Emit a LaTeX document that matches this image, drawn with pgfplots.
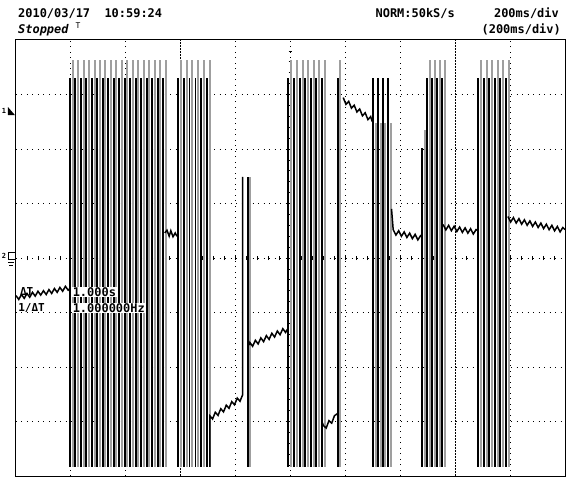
\documentclass[border=0pt]{standalone}
\usepackage{pgfplots}
\pgfplotsset{compat=1.18}
\usepackage{pgfplotstable}
\usepackage{fontspec}
\setmonofont{DejaVu Sans Mono}
\begin{document}
% pulse edges: x position (div), bottom, height of black edge, height of gray edge
\pgfplotstableread{
x    yb    hb   hg
0.98 -3.83 7.13 7.46
1.08 -3.83 7.13 7.46
1.18 -3.83 7.13 7.46
1.28 -3.83 7.13 7.46
1.38 -3.83 7.13 7.46
1.48 -3.83 7.13 7.46
1.58 -3.83 7.13 7.46
1.68 -3.83 7.13 7.46
1.78 -3.83 7.13 7.46
1.88 -3.83 7.13 7.46
1.98 -3.83 7.13 7.46
2.08 -3.83 7.13 7.46
2.18 -3.83 7.13 7.46
2.28 -3.83 7.13 7.46
2.38 -3.83 7.13 7.46
2.48 -3.83 7.13 7.46
2.58 -3.83 7.13 7.46
2.68 -3.83 7.13 7.46
2.95 -3.83 7.13 7.46
3.06 -3.83 7.13 7.46
3.16 -3.83 7.13 7.46
3.27 -3.83 7.13 7.46
3.37 -3.83 7.13 7.46
3.48 -3.83 7.13 7.46
4.22 -3.83 5.32 5.32
4.95 -3.83 7.13 7.46
5.06 -3.83 7.13 7.46
5.17 -3.83 7.13 7.46
5.27 -3.83 7.13 7.46
5.37 -3.83 7.13 7.46
5.47 -3.83 7.13 7.46
5.57 -3.83 7.13 7.46
5.86 -3.83 7.13 7.46
6.50 -3.83 7.13 6.31
6.59 -3.83 7.13 6.31
6.68 -3.83 7.13 6.31
6.78 -3.83 7.13 6.31
7.40 -3.83 5.85 6.18
7.49 -3.83 7.13 7.46
7.58 -3.83 7.13 7.46
7.67 -3.83 7.13 7.46
7.76 -3.83 7.13 7.46
8.42 -3.83 7.13 7.46
8.52 -3.83 7.13 7.46
8.62 -3.83 7.13 7.46
8.73 -3.83 7.13 7.46
8.82 -3.83 7.13 7.46
8.93 -3.83 7.13 7.46
}\pulses

\begin{tikzpicture}[font=\ttfamily\bfseries\fontsize{12}{14}\selectfont]
\begin{axis}[
  scale only axis, width=549bp, height=436bp,
  xmin=0, xmax=10, ymin=-4, ymax=4,
  xtick=\empty, ytick=\empty,
  axis line style={black, line width=1bp},
  clip=false,
]
% dotted graticule
\pgfplotsinvokeforeach{1,2,4,6,7,9}{\draw[black, line width=0.9bp, dash pattern=on 0.9bp off 4.6bp] (axis cs:#1,-4) -- (axis cs:#1,4);}
\pgfplotsinvokeforeach{-3,-2,-1,1,2,3}{\draw[black, line width=0.9bp, dash pattern=on 0.9bp off 4.6bp] (axis cs:0,#1) -- (axis cs:10,#1);}
% centre lines with fine ticks, and the two cursors
\draw[black, line width=0.9bp, dash pattern=on 0.9bp off 4.6bp] (axis cs:0,0) -- (axis cs:10,0);
\draw[black, line width=0.9bp, dash pattern=on 0.9bp off 4.6bp] (axis cs:5,-4) -- (axis cs:5,4);
\pgfplotsinvokeforeach{0.2,0.4,...,9.8}{\draw[black, line width=0.8bp] (axis cs:#1,-0.04) -- (axis cs:#1,0.04);}
\pgfplotsinvokeforeach{-3.8,-3.6,...,3.8}{\draw[black, line width=0.8bp] (axis cs:4.964,#1) -- (axis cs:5.036,#1);}
\draw[black, line width=1bp, dash pattern=on 2bp off 1bp] (axis cs:3,-4) -- (axis cs:3,4);
\draw[black, line width=1bp, dash pattern=on 2bp off 1bp] (axis cs:8,-4) -- (axis cs:8,4);

% pulse edges
\addplot[gray!75, line width=2bp, quiver={u=0, v=\thisrow{hg}}]
  table[x expr=\thisrow{x}+0.05, y=yb] {\pulses};
\addplot[black, line width=1.8bp, quiver={u=0, v=\thisrow{hb}}]
  table[x=x, y=yb] {\pulses};

% trace between bursts
\addplot[black, line width=1.5bp] coordinates {
(0.00,-0.69) (0.05,-0.76) (0.10,-0.67) (0.15,-0.74) (0.20,-0.65) (0.25,-0.72)
(0.30,-0.63) (0.35,-0.70) (0.40,-0.61) (0.45,-0.68) (0.50,-0.60) (0.55,-0.67)
(0.60,-0.58) (0.65,-0.65) (0.70,-0.56) (0.75,-0.63) (0.80,-0.54) (0.85,-0.61)
(0.90,-0.52) (0.95,-0.59) (0.98,-0.56)};
\addplot[black, line width=1.5bp] coordinates {
(2.71,0.46) (2.75,0.51) (2.79,0.40) (2.82,0.50) (2.86,0.39) (2.90,0.46) (2.93,0.40)};
\addplot[black, line width=1.5bp] coordinates {
(3.53,-3.83) (3.53,-2.895) (3.58,-2.953) (3.63,-2.830) (3.68,-2.888) (3.73,-2.765)
(3.78,-2.823) (3.83,-2.700) (3.88,-2.758) (3.93,-2.635) (3.98,-2.693) (4.03,-2.570)
(4.08,-2.628) (4.13,-2.505) (4.13,1.49)};
\addplot[black, line width=1.5bp] coordinates {
(4.25,-1.60) (4.26,-1.551) (4.31,-1.620) (4.36,-1.509) (4.41,-1.577) (4.46,-1.466)
(4.51,-1.535) (4.56,-1.424) (4.61,-1.493) (4.66,-1.381) (4.71,-1.450) (4.76,-1.339)
(4.81,-1.408) (4.86,-1.297) (4.91,-1.366) (4.95,-1.30)};
\addplot[black, line width=1.5bp] coordinates {
(5.57,-3.00) (5.60,-3.075) (5.65,-3.12) (5.70,-2.985) (5.75,-3.03) (5.80,-2.895) (5.86,-2.85)};
\addplot[black, line width=1.5bp] coordinates {
(5.96,2.944) (6.01,2.819) (6.06,2.874) (6.11,2.749) (6.16,2.804) (6.21,2.679)
(6.26,2.734) (6.31,2.609) (6.36,2.664) (6.41,2.539) (6.46,2.594) (6.49,2.50)};
\addplot[black, line width=1.5bp] coordinates {
(6.84,0.90) (6.87,0.522) (6.92,0.421) (6.97,0.500) (7.02,0.399) (7.07,0.478)
(7.12,0.377) (7.17,0.456) (7.22,0.355) (7.27,0.434) (7.32,0.333) (7.37,0.412) (7.40,0.40)};
\addplot[black, line width=1.5bp] coordinates {
(7.78,0.614) (7.83,0.516) (7.88,0.599) (7.93,0.501) (7.98,0.583) (8.03,0.486)
(8.08,0.568) (8.13,0.470) (8.18,0.553) (8.23,0.455) (8.28,0.537) (8.33,0.440)
(8.38,0.522) (8.42,0.50)};
\addplot[black, line width=1.5bp] coordinates {
(8.96,0.761) (9.01,0.661) (9.06,0.741) (9.11,0.641) (9.16,0.721) (9.21,0.620)
(9.26,0.700) (9.31,0.600) (9.36,0.680) (9.41,0.580) (9.46,0.660) (9.51,0.560)
(9.56,0.640) (9.61,0.540) (9.66,0.620) (9.71,0.519) (9.76,0.599) (9.81,0.499)
(9.86,0.579) (9.91,0.479) (9.96,0.559) (10.0,0.52)};

% screen texts
\node[anchor=base west, inner sep=0] at (axis cs:0.036,4.404) {2010/03/17\ \ 10:59:24};
\node[anchor=base west, inner sep=0] at (axis cs:0.036,4.128) {\itshape Stopped};
\node[inner sep=0, font=\ttfamily\fontsize{8}{8}\selectfont] at (axis cs:1.13,4.26) {T};
\node[anchor=base east, inner sep=0] at (axis cs:7.996,4.404) {NORM:50kS/s};
\node[anchor=base east, inner sep=0] at (axis cs:9.891,4.404) {200ms/div};
\node[anchor=base east, inner sep=0] at (axis cs:9.927,4.128) {(200ms/div)};

% channel markers
\node[inner sep=0, font=\ttfamily\bfseries\fontsize{7}{7}\selectfont] at (axis cs:-0.219,2.70) {1};
\fill[black] (axis cs:-0.146,2.77) -- (axis cs:-0.146,2.62) -- (axis cs:-0.018,2.62) -- cycle;
\node[inner sep=0, font=\ttfamily\bfseries\fontsize{7}{7}\selectfont] at (axis cs:-0.219,0.04) {2};
\draw[black, line width=0.8bp] (axis cs:-0.02,0.10) -- (axis cs:-0.13,0.10) -- (axis cs:-0.13,-0.02) -- (axis cs:-0.02,-0.02);
\draw[black, line width=0.8bp] (axis cs:-0.15,-0.08) -- (axis cs:-0.03,-0.08);
\draw[black, line width=0.8bp] (axis cs:-0.12,-0.13) -- (axis cs:-0.05,-0.13);

% cursor readout
\node[anchor=west, inner sep=0, font=\ttfamily\bfseries\fontsize{11}{12}\selectfont] at (axis cs:0.07,-0.62) {ΔT};
\node[anchor=west, inner sep=0, font=\ttfamily\bfseries\fontsize{11}{12}\selectfont] at (axis cs:0.04,-0.92) {1/ΔT};
\node[anchor=west, fill=white, inner sep=0.6bp] at (axis cs:1.02,-0.62) {1.000s};
\node[anchor=west, fill=white, inner sep=0.6bp] at (axis cs:1.02,-0.92) {1.000000Hz};

\path (axis cs:-0.2914,-4.055) rectangle (axis cs:10.109,4.734);
\end{axis}
\end{tikzpicture}
\end{document}
